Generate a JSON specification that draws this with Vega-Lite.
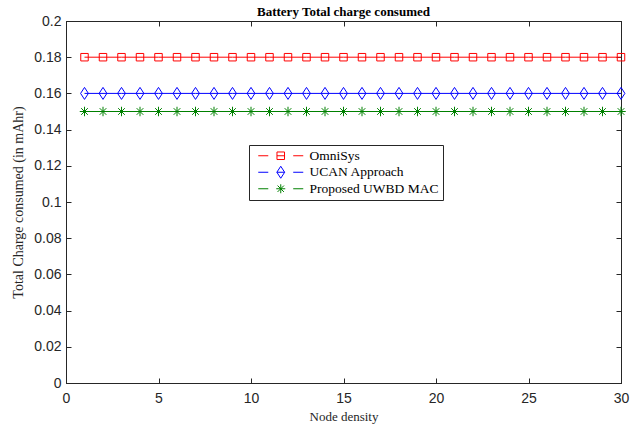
{
 "$schema": "https://vega.github.io/schema/vega-lite/v6.json",
 "width": 555, "height": 362,
 "autosize": {"type": "none"},
 "padding": {"left": 66, "top": 21, "right": 19, "bottom": 45},
 "background": "white",
 "title": {"text": "Battery Total charge consumed", "font": "Liberation Serif", "fontSize": 13, "fontWeight": "bold", "color": "black", "offset": -5, "anchor": "middle"},
 "config": {
  "view": {"stroke": "#262626", "strokeWidth": 1},
  "axis": {"domainColor": "#262626", "tickColor": "#262626", "tickSize": -5, "labelFont": "Liberation Sans", "labelFontSize": 14, "labelColor": "#262626", "titleFont": "Liberation Serif", "titleFontSize": 13, "titleFontWeight": "normal", "titleColor": "#262626", "grid": false, "labelFlush": false, "labelOverlap": false}
 },
 "data": {"values": [
  {"x":1,"y":0.18,"s":"OmniSys"},{"x":2,"y":0.18,"s":"OmniSys"},{"x":3,"y":0.18,"s":"OmniSys"},{"x":4,"y":0.18,"s":"OmniSys"},{"x":5,"y":0.18,"s":"OmniSys"},{"x":6,"y":0.18,"s":"OmniSys"},{"x":7,"y":0.18,"s":"OmniSys"},{"x":8,"y":0.18,"s":"OmniSys"},{"x":9,"y":0.18,"s":"OmniSys"},{"x":10,"y":0.18,"s":"OmniSys"},
  {"x":11,"y":0.18,"s":"OmniSys"},{"x":12,"y":0.18,"s":"OmniSys"},{"x":13,"y":0.18,"s":"OmniSys"},{"x":14,"y":0.18,"s":"OmniSys"},{"x":15,"y":0.18,"s":"OmniSys"},{"x":16,"y":0.18,"s":"OmniSys"},{"x":17,"y":0.18,"s":"OmniSys"},{"x":18,"y":0.18,"s":"OmniSys"},{"x":19,"y":0.18,"s":"OmniSys"},{"x":20,"y":0.18,"s":"OmniSys"},
  {"x":21,"y":0.18,"s":"OmniSys"},{"x":22,"y":0.18,"s":"OmniSys"},{"x":23,"y":0.18,"s":"OmniSys"},{"x":24,"y":0.18,"s":"OmniSys"},{"x":25,"y":0.18,"s":"OmniSys"},{"x":26,"y":0.18,"s":"OmniSys"},{"x":27,"y":0.18,"s":"OmniSys"},{"x":28,"y":0.18,"s":"OmniSys"},{"x":29,"y":0.18,"s":"OmniSys"},{"x":30,"y":0.18,"s":"OmniSys"},
  {"x":1,"y":0.16,"s":"UCAN Approach"},{"x":2,"y":0.16,"s":"UCAN Approach"},{"x":3,"y":0.16,"s":"UCAN Approach"},{"x":4,"y":0.16,"s":"UCAN Approach"},{"x":5,"y":0.16,"s":"UCAN Approach"},{"x":6,"y":0.16,"s":"UCAN Approach"},{"x":7,"y":0.16,"s":"UCAN Approach"},{"x":8,"y":0.16,"s":"UCAN Approach"},{"x":9,"y":0.16,"s":"UCAN Approach"},{"x":10,"y":0.16,"s":"UCAN Approach"},
  {"x":11,"y":0.16,"s":"UCAN Approach"},{"x":12,"y":0.16,"s":"UCAN Approach"},{"x":13,"y":0.16,"s":"UCAN Approach"},{"x":14,"y":0.16,"s":"UCAN Approach"},{"x":15,"y":0.16,"s":"UCAN Approach"},{"x":16,"y":0.16,"s":"UCAN Approach"},{"x":17,"y":0.16,"s":"UCAN Approach"},{"x":18,"y":0.16,"s":"UCAN Approach"},{"x":19,"y":0.16,"s":"UCAN Approach"},{"x":20,"y":0.16,"s":"UCAN Approach"},
  {"x":21,"y":0.16,"s":"UCAN Approach"},{"x":22,"y":0.16,"s":"UCAN Approach"},{"x":23,"y":0.16,"s":"UCAN Approach"},{"x":24,"y":0.16,"s":"UCAN Approach"},{"x":25,"y":0.16,"s":"UCAN Approach"},{"x":26,"y":0.16,"s":"UCAN Approach"},{"x":27,"y":0.16,"s":"UCAN Approach"},{"x":28,"y":0.16,"s":"UCAN Approach"},{"x":29,"y":0.16,"s":"UCAN Approach"},{"x":30,"y":0.16,"s":"UCAN Approach"},
  {"x":1,"y":0.15,"s":"Proposed UWBD MAC"},{"x":2,"y":0.15,"s":"Proposed UWBD MAC"},{"x":3,"y":0.15,"s":"Proposed UWBD MAC"},{"x":4,"y":0.15,"s":"Proposed UWBD MAC"},{"x":5,"y":0.15,"s":"Proposed UWBD MAC"},{"x":6,"y":0.15,"s":"Proposed UWBD MAC"},{"x":7,"y":0.15,"s":"Proposed UWBD MAC"},{"x":8,"y":0.15,"s":"Proposed UWBD MAC"},{"x":9,"y":0.15,"s":"Proposed UWBD MAC"},{"x":10,"y":0.15,"s":"Proposed UWBD MAC"},
  {"x":11,"y":0.15,"s":"Proposed UWBD MAC"},{"x":12,"y":0.15,"s":"Proposed UWBD MAC"},{"x":13,"y":0.15,"s":"Proposed UWBD MAC"},{"x":14,"y":0.15,"s":"Proposed UWBD MAC"},{"x":15,"y":0.15,"s":"Proposed UWBD MAC"},{"x":16,"y":0.15,"s":"Proposed UWBD MAC"},{"x":17,"y":0.15,"s":"Proposed UWBD MAC"},{"x":18,"y":0.15,"s":"Proposed UWBD MAC"},{"x":19,"y":0.15,"s":"Proposed UWBD MAC"},{"x":20,"y":0.15,"s":"Proposed UWBD MAC"},
  {"x":21,"y":0.15,"s":"Proposed UWBD MAC"},{"x":22,"y":0.15,"s":"Proposed UWBD MAC"},{"x":23,"y":0.15,"s":"Proposed UWBD MAC"},{"x":24,"y":0.15,"s":"Proposed UWBD MAC"},{"x":25,"y":0.15,"s":"Proposed UWBD MAC"},{"x":26,"y":0.15,"s":"Proposed UWBD MAC"},{"x":27,"y":0.15,"s":"Proposed UWBD MAC"},{"x":28,"y":0.15,"s":"Proposed UWBD MAC"},{"x":29,"y":0.15,"s":"Proposed UWBD MAC"},{"x":30,"y":0.15,"s":"Proposed UWBD MAC"}
 ]},
 "layer": [
  {
   "encoding": {
    "x": {"field": "x", "type": "quantitative", "scale": {"domain": [0, 30], "nice": false, "zero": false}, "axis": {"title": "Node density", "values": [0,5,10,15,20,25,30], "format": "d", "labelPadding": 13, "titlePadding": 5}},
    "y": {"field": "y", "type": "quantitative", "scale": {"domain": [0, 0.2], "nice": false}, "axis": {"title": "Total Charge consumed (in mAhr)", "values": [0,0.02,0.04,0.06,0.08,0.1,0.12,0.14,0.16,0.18,0.2], "format": ".2~f", "labelPadding": 10, "titlePadding": 8, "titleFontSize": 14}}
   },
   "layer": [
    {"transform": [{"filter": "datum.s === 'OmniSys'"}],
     "mark": {"type": "line", "strokeWidth": 1, "color": "#ff0000", "clip": false}},
    {"transform": [{"filter": "datum.s === 'UCAN Approach'"}],
     "mark": {"type": "line", "strokeWidth": 1, "color": "#0000ff", "clip": false}},
    {"transform": [{"filter": "datum.s === 'Proposed UWBD MAC'"}],
     "mark": {"type": "line", "strokeWidth": 1, "color": "#008000", "clip": false}},
    {"transform": [{"filter": "datum.s === 'OmniSys'"}],
     "mark": {"type": "point", "shape": "square", "size": 56, "filled": false, "color": "#ff0000", "strokeWidth": 1, "opacity": 1, "clip": false}},
    {"transform": [{"filter": "datum.s === 'UCAN Approach'"}],
     "mark": {"type": "point", "shape": "M0,-1L0.65,0L0,1L-0.65,0Z", "size": 144, "filled": false, "color": "#0000ff", "strokeWidth": 1, "opacity": 1, "clip": false}},
    {"transform": [{"filter": "datum.s === 'Proposed UWBD MAC'"}],
     "mark": {"type": "point", "shape": "M-1,0H1M0,-1V1M-0.7,-0.7L0.7,0.7M-0.7,0.7L0.7,-0.7", "size": 90, "filled": false, "color": "#008000", "strokeWidth": 1, "opacity": 1, "clip": false}},
    {"transform": [{"filter": "datum.x === 1"}],
     "mark": {"type": "point", "filled": false, "opacity": 0, "strokeWidth": 1},
     "encoding": {
      "color": {"field": "s", "type": "nominal", "scale": {"domain": ["OmniSys", "UCAN Approach", "Proposed UWBD MAC"], "range": ["#ff0000", "#0000ff", "#008000"]},
        "legend": {"title": null, "orient": "none", "legendX": 183, "legendY": 124, "fillColor": "white", "strokeColor": "#262626", "padding": 4, "symbolSize": 144, "symbolOffset": 21, "symbolOpacity": 1, "symbolStrokeWidth": 1, "symbolFillColor": "transparent", "labelFont": "Liberation Serif", "labelFontSize": 13.5, "labelColor": "black", "labelOffset": 22, "rowPadding": 0.5}},
      "shape": {"field": "s", "type": "nominal", "scale": {"domain": ["OmniSys", "UCAN Approach", "Proposed UWBD MAC"], "range": [
        "M-3.75,0H-2.08M2.08,0H3.75M-0.63,-0.63H0.63V0.63H-0.63ZM-0.63,0H0.63",
        "M-3.75,0H-2.08M2.08,0H3.75M0,-1L0.65,0L0,1L-0.65,0ZM-0.65,0H0.65",
        "M-3.75,0H-2.08M2.08,0H3.75M-0.75,0H0.75M0,-0.75V0.75M-0.53,-0.53L0.53,0.53M-0.53,0.53L0.53,-0.53"]},
        "legend": {"title": null, "orient": "none", "legendX": 183, "legendY": 124, "fillColor": "white", "strokeColor": "#262626", "padding": 4, "symbolSize": 144, "symbolOffset": 21, "symbolOpacity": 1, "symbolStrokeWidth": 1, "symbolFillColor": "transparent", "labelFont": "Liberation Serif", "labelFontSize": 13.5, "labelColor": "black", "labelOffset": 22, "rowPadding": 0.5}}
     }}
   ]
  },
  {
   "mark": {"type": "point", "opacity": 0},
   "encoding": {
    "x": {"field": "x", "type": "quantitative", "scale": {"domain": [0, 30], "nice": false, "zero": false}, "axis": {"orient": "top", "title": null, "labels": false, "values": [0,5,10,15,20,25,30]}},
    "y": {"field": "y", "type": "quantitative", "scale": {"domain": [0, 0.2], "nice": false}, "axis": {"orient": "right", "title": null, "labels": false, "values": [0,0.02,0.04,0.06,0.08,0.1,0.12,0.14,0.16,0.18,0.2]}}
   }
  }
 ],
 "resolve": {"scale": {"x": "independent", "y": "independent"}}
}
